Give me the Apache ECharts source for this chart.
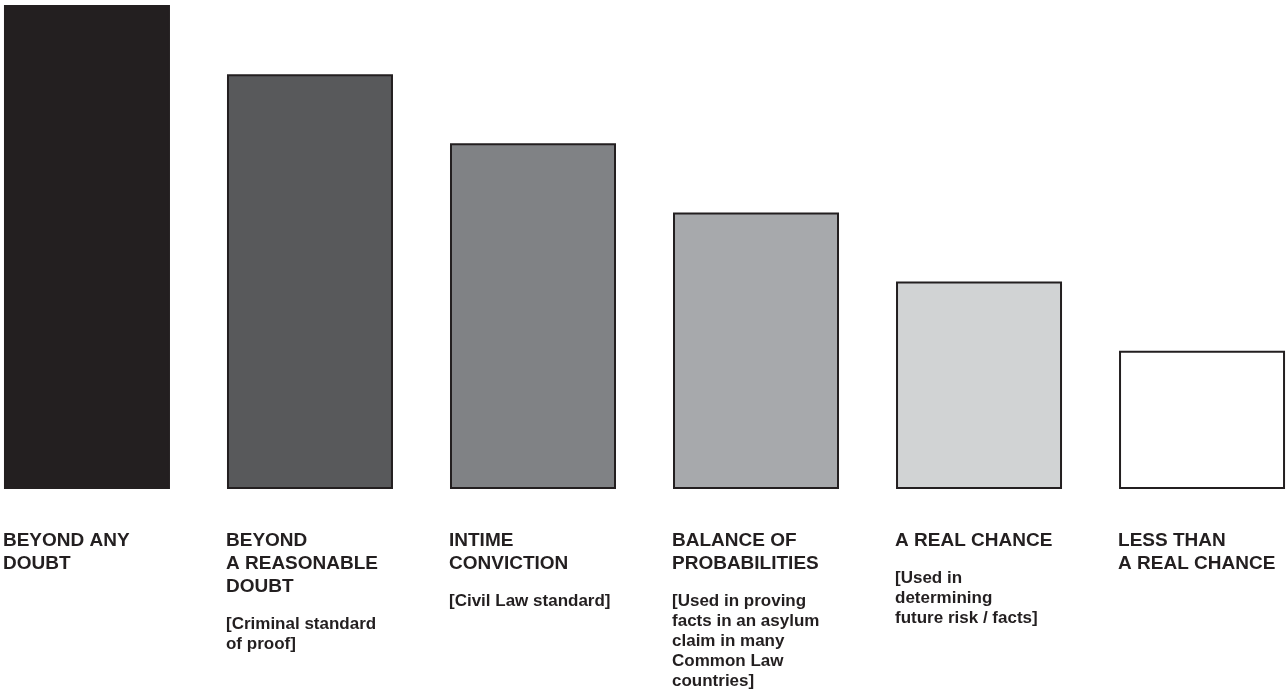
<!DOCTYPE html>
<html>
<head>
<meta charset="utf-8">
<script src="https://cdn.jsdelivr.net/npm/echarts@6/dist/echarts.min.js"></script>
<style>
html,body{margin:0;padding:0;background:#fff;}
#chart{width:1287px;height:697px;}
</style>
</head>
<body>
<div id="chart"></div>
<script>
const categories = ['BEYOND ANY\nDOUBT', 'BEYOND\nA REASONABLE\nDOUBT', 'INTIME\nCONVICTION', 'BALANCE OF\nPROBABILITIES', 'A REAL CHANCE', 'LESS THAN\nA REAL CHANCE'];
const notes = ['', '[Criminal standard\nof proof]', '[Civil Law standard]', '[Used in proving\nfacts in an asylum\nclaim in many\nCommon Law\ncountries]', '[Used in\ndetermining\nfuture risk / facts]', ''];
const values = [7, 6, 5, 4, 3, 2];

const palette = ['#231f20', '#58595b', '#808285', '#a7a9ac', '#d1d3d4', '#ffffff'];
const ink = '#231f20';

function buildLabel(i) {
  let parts = categories[i].split('\n').map(l => '{t|' + l + '}');
  if (notes[i]) {
    parts.push('{g| }');
    parts = parts.concat(notes[i].split('\n').map(l => '{s|' + l + '}'));
  }
  return parts.join('\n');
}

const chart = echarts.init(document.getElementById('chart'), null, {renderer: 'canvas'});
chart.setOption({
  animation: false,
  backgroundColor: '#ffffff',
  grid: {left: 0, right: 0, top: 5, height: 484},
  xAxis: {
    type: 'value',
    min: -0.39,
    max: 5.381,
    show: false,
    splitLine: {show: false}
  },
  yAxis: {
    type: 'value',
    min: 0,
    max: 7,
    show: false,
    splitLine: {show: false}
  },
  series: [{
    type: 'bar',
    barWidth: 166,
    clip: false,
    data: values.map((v, i) => ({
      value: [i, v],
      itemStyle: {color: palette[i]}
    })),
    itemStyle: {borderColor: ink, borderWidth: 2},
    label: {
      show: true,
      position: [0, '100%'],
      offset: [-1, 40],
      align: 'left',
      verticalAlign: 'top',
      formatter: p => buildLabel(p.dataIndex),
      rich: {
        t: {fontFamily: '"Liberation Sans", Arial, Helvetica, sans-serif', fontWeight: 'bold', fontSize: 19, lineHeight: 23, color: ink},
        g: {fontSize: 1, lineHeight: 16},
        s: {fontFamily: '"Liberation Sans", Arial, Helvetica, sans-serif', fontWeight: 'bold', fontSize: 17, lineHeight: 20, color: ink}
      }
    }
  }]
});
</script>
</body>
</html>
